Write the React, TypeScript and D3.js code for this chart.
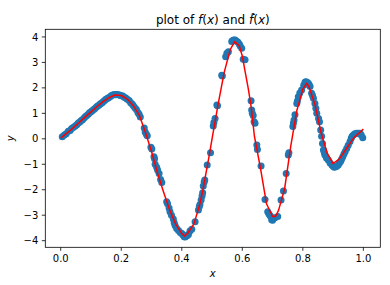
import React from "react";
import * as d3 from "d3";

const xTicks = [0.0, 0.2, 0.4, 0.6, 0.8, 1.0];
const yTicks = [-4, -3, -2, -1, 0, 1, 2, 3, 4];

// fitted curve f-hat (knots)
const lineX = [0.0, 0.02, 0.04, 0.06, 0.08, 0.1, 0.12, 0.14, 0.16, 0.18, 0.2, 0.22, 0.24, 0.26, 0.28, 0.3, 0.32, 0.34, 0.36, 0.38, 0.4, 0.41, 0.42, 0.44, 0.46, 0.47, 0.48, 0.49, 0.5, 0.52, 0.54, 0.56, 0.575, 0.59, 0.6, 0.61, 0.62, 0.63, 0.64, 0.66, 0.68, 0.7, 0.71, 0.72, 0.74, 0.76, 0.78, 0.8, 0.813, 0.82, 0.84, 0.86, 0.88, 0.9, 0.92, 0.945, 0.967, 1.0];
const lineY = [0.03, 0.22, 0.42, 0.63, 0.85, 1.06, 1.27, 1.46, 1.62, 1.72, 1.7, 1.56, 1.3, 0.92, 0.25, -0.5, -1.35, -2.1, -2.8, -3.35, -3.72, -3.82, -3.7, -3.35, -2.55, -2.0, -1.35, -0.7, 0.0, 1.35, 2.6, 3.5, 3.82, 3.65, 3.25, 2.6, 1.95, 1.2, 0.1, -1.15, -2.55, -3.05, -3.05, -2.8, -1.95, -0.3, 1.1, 1.95, 2.18, 2.05, 1.35, 0.25, -0.55, -0.97, -0.8, -0.37, 0.02, 0.38];

// noisy samples f(x)
const ptX = [0.005, 0.012, 0.018, 0.025, 0.031, 0.036, 0.042, 0.048, 0.053, 0.058, 0.063, 0.068, 0.072, 0.077, 0.082, 0.086, 0.091, 0.095, 0.1, 0.104, 0.109, 0.113, 0.118, 0.122, 0.127, 0.131, 0.136, 0.14, 0.145, 0.149, 0.154, 0.158, 0.163, 0.168, 0.172, 0.177, 0.182, 0.186, 0.191, 0.196, 0.2, 0.205, 0.21, 0.215, 0.22, 0.226, 0.231, 0.236, 0.24, 0.245, 0.25, 0.255, 0.259, 0.263, 0.276, 0.279, 0.283, 0.286,
  0.298, 0.301, 0.308, 0.31, 0.312, 0.317, 0.32, 0.325, 0.33, 0.334, 0.35, 0.353, 0.358, 0.361, 0.366, 0.372, 0.375, 0.378, 0.383, 0.389, 0.395, 0.4, 0.404, 0.408, 0.411, 0.415, 0.418, 0.422, 0.427, 0.433, 0.444, 0.455, 0.458, 0.46, 0.464, 0.467, 0.469, 0.471, 0.474, 0.476, 0.484, 0.495,
  0.504, 0.506, 0.51, 0.516, 0.518, 0.532, 0.534, 0.545, 0.549, 0.554, 0.565, 0.568, 0.572, 0.576, 0.58, 0.585, 0.59, 0.593, 0.598, 0.603, 0.609, 0.629, 0.631, 0.633, 0.636, 0.639, 0.642, 0.648, 0.65,
  0.662, 0.675, 0.684, 0.688, 0.692, 0.697, 0.7, 0.704, 0.708, 0.717, 0.728, 0.736, 0.745, 0.752, 0.754,
  0.767, 0.769, 0.771, 0.774, 0.78, 0.782, 0.785, 0.79, 0.796, 0.803, 0.807, 0.81, 0.814, 0.818, 0.821, 0.824, 0.829, 0.832, 0.835, 0.84, 0.843, 0.846, 0.852, 0.855, 0.859, 0.862, 0.865, 0.868, 0.871, 0.873, 0.878, 0.884, 0.89, 0.896, 0.9, 0.904, 0.908, 0.912, 0.917, 0.921, 0.925, 0.928, 0.932, 0.936, 0.94, 0.945, 0.95, 0.956, 0.96, 0.963, 0.967, 0.972, 0.978, 0.983, 0.989, 0.993, 0.998];
const ptY = [0.08, 0.15, 0.2, 0.3, 0.33, 0.4, 0.45, 0.5, 0.55, 0.62, 0.66, 0.72, 0.75, 0.82, 0.88, 0.92, 0.96, 1.02, 1.06, 1.1, 1.15, 1.19, 1.25, 1.29, 1.33, 1.38, 1.41, 1.46, 1.5, 1.55, 1.58, 1.61, 1.65, 1.7, 1.72, 1.74, 1.73, 1.74, 1.73, 1.71, 1.69, 1.68, 1.63, 1.6, 1.55, 1.5, 1.42, 1.37, 1.3, 1.22, 1.15, 1.03, 0.96, 0.86, 0.42, 0.27, 0.18, 0.12,
  -0.33, -0.4, -0.7, -0.78, -1.0, -1.12, -1.22, -1.36, -1.6, -1.72, -2.47, -2.55, -2.72, -2.86, -3.0, -3.15, -3.3, -3.4, -3.52, -3.6, -3.68, -3.72, -3.78, -3.85, -3.86, -3.82, -3.8, -3.76, -3.62, -3.55, -3.26, -2.8, -2.66, -2.58, -2.4, -2.25, -2.12, -1.85, -1.7, -1.62, -1.03, -0.55,
  0.5, 0.64, 0.8, 1.33, 1.3, 2.5, 2.47, 3.22, 3.36, 3.42, 3.82, 3.86, 3.88, 3.88, 3.84, 3.8, 3.72, 3.64, 3.56, 3.12, 3.1, 1.49, 1.13, 1.0, 0.92, 0.67, 0.61, -0.24, -0.42,
  -1.07, -2.38, -2.86, -2.95, -3.02, -3.18, -3.2, -3.12, -3.1, -3.05, -2.4, -2.05, -1.36, -0.64, -0.55,
  0.48, 0.62, 0.74, 0.94, 1.39, 1.48, 1.65, 1.8, 1.92, 2.1, 2.22, 2.24, 2.22, 2.18, 2.12, 2.05, 1.79, 1.7, 1.59, 1.39, 1.2, 1.0, 0.8, 0.67, 0.35, 0.1, -0.18, -0.44, -0.55, -0.64, -0.75, -0.83, -0.95, -1.03, -1.08, -1.12, -1.1, -1.08, -1.03, -0.95, -0.88, -0.8, -0.7, -0.6, -0.5, -0.38, -0.25, -0.11, 0.02, 0.1, 0.15, 0.2, 0.22, 0.22, 0.22, 0.15, 0.04];

const W = 390, H = 285;
const L = 45.3, R = 380.3, T = 29.3, B = 247.3;

export default function App() {
  const x = d3.scaleLinear().domain([-0.051, 1.056]).range([L, R]);
  const y = d3.scaleLinear().domain([-4.26, 4.3]).range([B, T]);
  const lineData: [number, number][] = lineX.map((v, i) => [v, lineY[i]]);
  const path = d3.line<[number, number]>().x(d => x(d[0])).y(d => y(d[1]))(lineData) || "";
  const font = "DejaVu Sans, sans-serif";
  const fmtY = (v: number) => (v < 0 ? "\u2212" + Math.abs(v) : String(v));
  return (
    <svg width={W} height={H} style={{ position: "absolute", left: 0, top: 0, background: "#fff" }} fontFamily={font}>
      <rect x={0} y={0} width={W} height={H} fill="#fff" />
      <g>
        {ptX.map((v, i) => (
          <circle key={i} cx={x(v)} cy={y(ptY[i])} r={3.5} fill="#1f77b4" />
        ))}
      </g>
      <path d={path} fill="none" stroke="#ff0000" strokeWidth={1.5} strokeLinejoin="round" />
      <rect x={L} y={T} width={R - L} height={B - T} fill="none" stroke="#000" strokeWidth={0.8} />
      {xTicks.map(t => (
        <g key={"x" + t}>
          <line x1={x(t)} x2={x(t)} y1={B} y2={B + 3.5} stroke="#000" strokeWidth={0.8} />
          <text x={x(t)} y={B + 15} fontSize={10} textAnchor="middle" fill="#000">{t.toFixed(1)}</text>
        </g>
      ))}
      {yTicks.map(t => (
        <g key={"y" + t}>
          <line x1={L - 3.5} x2={L} y1={y(t)} y2={y(t)} stroke="#000" strokeWidth={0.8} />
          <text x={L - 7} y={y(t) + 3.6} fontSize={10} textAnchor="end" fill="#000">{fmtY(t)}</text>
        </g>
      ))}
      <text x={(L + R) / 2} y={277} fontSize={10} textAnchor="middle" fontStyle="italic" fill="#000">x</text>
      <text transform={`translate(14,${(T + B) / 2}) rotate(-90)`} fontSize={10} textAnchor="middle" fontStyle="italic" fill="#000">y</text>
      <text x={(L + R) / 2} y={24} fontSize={12} textAnchor="middle" fill="#000">
        <tspan>plot of </tspan>
        <tspan fontStyle="italic">f</tspan>
        <tspan>(</tspan>
        <tspan fontStyle="italic">x</tspan>
        <tspan>) and </tspan>
        <tspan fontStyle="italic">{"f\u0302"}</tspan>
        <tspan>(</tspan>
        <tspan fontStyle="italic">x</tspan>
        <tspan>)</tspan>
      </text>
    </svg>
  );
}
